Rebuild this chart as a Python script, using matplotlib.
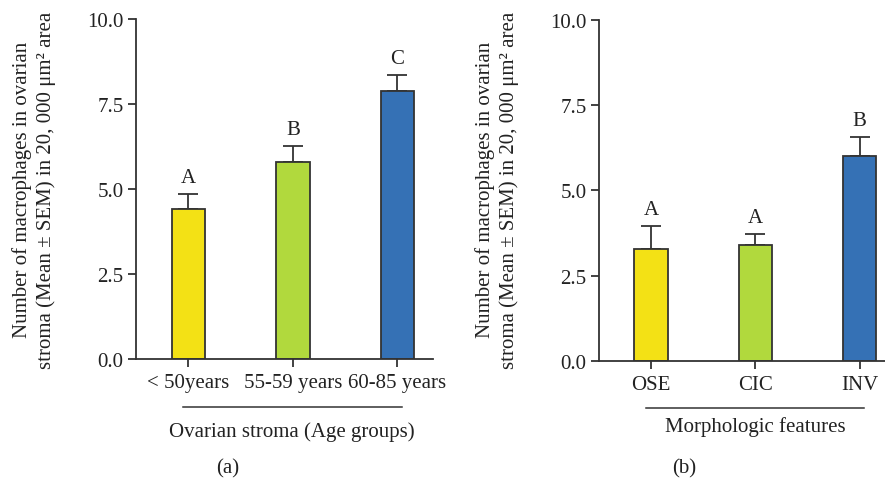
import numpy as np
import matplotlib
matplotlib.use("Agg")
import matplotlib.pyplot as plt
import matplotlib.transforms as mtransforms

plt.rcParams['font.family'] = ['Liberation Serif', 'DejaVu Serif']

# =========================
# data
# =========================
age_groups = ['< 50years', '55-59 years', '60-85 years']
age_means = [4.43, 5.80, 7.87]
age_sem = [0.44, 0.48, 0.48]
age_letters = ['A', 'B', 'C']

morph_groups = ['OSE', 'CIC', 'INV']
morph_means = [3.29, 3.39, 6.01]
morph_sem = [0.68, 0.32, 0.57]
morph_letters = ['A', 'A', 'B']

bar_colors = ['#F3E115', '#B1D93D', '#3571B5']
yticks = [0.0, 2.5, 5.0, 7.5, 10.0]

ylabel = ('Number of macrophages in ovarian\n'
          'stroma (Mean \u00b1 SEM) in 20, 000 \u03bcm\u00b2 area')

ink = '#333333'
txt = '#222222'
fs = 15

fig = plt.figure(figsize=(8.85, 4.81), dpi=100)


def draw_panel(ax, groups, means, sem, letters, xmax):
    x = np.arange(len(groups))
    ax.errorbar(x, means, yerr=[np.zeros(len(sem)), sem], fmt='none',
                ecolor=ink, elinewidth=1.3, capsize=7, capthick=1.3, zorder=1)
    ax.bar(x, means, width=0.32, color=bar_colors, edgecolor=ink,
           linewidth=1.3, zorder=2)
    for xi, m, s, lab in zip(x, means, sem, letters):
        ax.annotate(lab, (xi, m + s), xytext=(0, 5), textcoords='offset points',
                    ha='center', va='bottom', fontsize=fs, color=txt)

    ax.set_xlim(-0.5, xmax)
    ax.set_ylim(0, 10)
    ax.set_yticks(yticks)
    ax.set_yticklabels(['%.1f' % t for t in yticks])
    ax.set_xticks(x)
    ax.set_xticklabels(groups)

    for side in ['top', 'right']:
        ax.spines[side].set_visible(False)
    for side in ['left', 'bottom']:
        ax.spines[side].set_color(ink)
        ax.spines[side].set_linewidth(1.3)
    ax.tick_params(direction='out', length=6, width=1.3, color=ink,
                   labelsize=fs, labelcolor=txt, pad=3)
    ax.tick_params(axis='x', pad=4)

    # line under the group labels
    trans = mtransforms.blended_transform_factory(ax.transData, ax.transAxes)
    ax.plot([-0.05, 2.04], [-0.14, -0.14], transform=trans, color=ink,
            linewidth=1.1, clip_on=False)


# =========================
# (a) age groups
# =========================
ax1 = fig.add_axes([0.1537, 0.251, 0.3356, 0.7075])
draw_panel(ax1, age_groups, age_means, age_sem, age_letters, 2.34)

fig.text(292 / 885, 1 - 432 / 481, 'Ovarian stroma (Age groups)',
         ha='center', va='center', fontsize=fs, color=txt)
fig.text(228 / 885, 1 - 469 / 481, '(a)',
         ha='center', va='center', fontsize=fs, color=txt)
fig.text(34 / 885, 1 - 190 / 481, ylabel, rotation=90, ha='center',
         va='center', multialignment='center', fontsize=fs,
         color=txt, linespacing=1.3)

# =========================
# (b) morphologic features
# =========================
ax2 = fig.add_axes([0.6768, 0.248, 0.33, 0.708])
draw_panel(ax2, morph_groups, morph_means, morph_sem, morph_letters, 2.3)

fig.text(755 / 885, 1 - 427 / 481, 'Morphologic features',
         ha='center', va='center', fontsize=fs, color=txt)
fig.text(684 / 885, 1 - 469 / 481, '(b)',
         ha='center', va='center', fontsize=fs, color=txt)
fig.text(497 / 885, 1 - 190 / 481, ylabel, rotation=90, ha='center',
         va='center', multialignment='center', fontsize=fs,
         color=txt, linespacing=1.3)

fig.savefig('out.png', dpi=100)
